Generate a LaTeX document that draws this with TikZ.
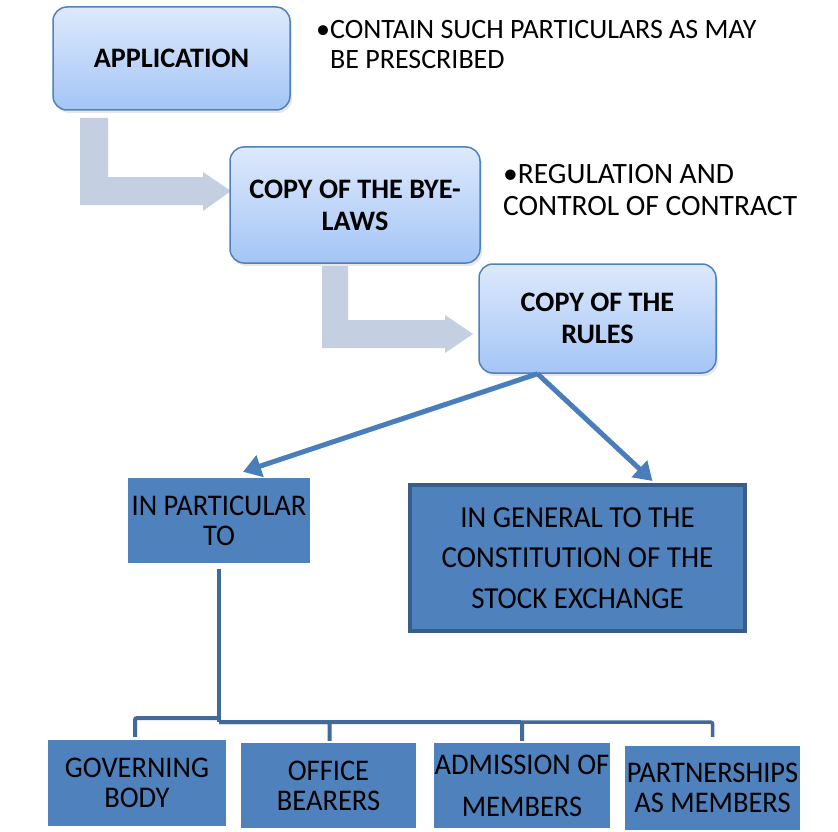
\documentclass[tikz,border=0pt]{standalone}
\usepackage{fontspec}
\setmainfont{Carlito}
\newfontfamily\narfont[FakeStretch=0.95]{Carlito}
\usetikzlibrary{arrows.meta,calc,shadows}
\definecolor{boxtop}{HTML}{DDE9FC}
\definecolor{boxbot}{HTML}{A4C5F6}
\definecolor{boxline}{HTML}{4F81BD}
\definecolor{bluefill}{HTML}{4F81BD}
\definecolor{genline}{HTML}{385D8A}
\definecolor{treeline}{HTML}{41699B}
\definecolor{arrline}{HTML}{4A7EBB}
\definecolor{bentcol}{HTML}{C5CFE2}
\tikzset{
  roundbox/.style={draw=boxline, line width=1.5pt, rounded corners=14pt, top color=boxtop, bottom color=boxbot,
    drop shadow={opacity=0.18, shadow xshift=2pt, shadow yshift=-3pt},
    align=center, inner sep=0pt, font=\bfseries\fontsize{28.2}{32}\selectfont},
  bluebox/.style={fill=bluefill, align=center, inner sep=0pt, font=\narfont\fontsize{30}{30}\selectfont},
  bullettext/.style={align=left, inner sep=0pt, anchor=north west},
  arr/.style={draw=arrline, line width=5pt, -{Triangle[length=18pt,width=22pt]}},
  tree/.style={draw=treeline, line width=4pt},
  bent/.style={fill=bentcol}
}
\begin{document}
\begin{tikzpicture}[x=1pt,y=-1pt]
\useasboundingbox (0,0) rectangle (838,832);
% bent arrows
\fill[bent] (80,118) -- (108,118) -- (108,177) -- (203,177) -- (203,172) -- (231,191) -- (203,211) -- (203,205) -- (80,205) -- cycle;
\fill[bent] (322,266) -- (348,266) -- (348,320) -- (445,320) -- (445,315) -- (473,334) -- (445,353) -- (445,348) -- (322,348) -- cycle;
% top boxes
\node[roundbox, minimum width=237pt, minimum height=103pt] (app) at (171.5,58.5) {APPLICATION};
\node[roundbox, minimum width=250pt, minimum height=116pt] (bye) at (355,205) {COPY OF THE BYE-\\LAWS};
\node[roundbox, minimum width=237pt, minimum height=109pt] (rules) at (597.5,318.5) {COPY OF THE\\RULES};
% bullet texts
\node[bullettext, font=\fontsize{28}{30}\selectfont] (b1) at (316,20) {•CONTAIN SUCH PARTICULARS AS MAY\\\hphantom{•}BE PRESCRIBED};
\node[bullettext, font=\fontsize{29.5}{32}\selectfont] (b2) at (503,164) {•REGULATION AND\\CONTROL OF CONTRACT};
% middle boxes
\node[bluebox, minimum width=182pt, minimum height=85pt] (inpart) at (219,520.5) {IN PARTICULAR\\TO};
\node[bluebox, draw=genline, line width=4pt, minimum width=335pt, minimum height=146pt, font=\narfont\fontsize{30.5}{40.5}\selectfont] (ingen) at (577.5,558) {IN GENERAL TO THE\\CONSTITUTION OF THE\\STOCK EXCHANGE};
% arrows from rules
\coordinate (rs) at ($(rules.south)+(-60,0)$);
\draw[arr] (rs) -- ($(inpart.north)+(24,-6)$);
\draw[arr] (rs) -- ($(ingen.north)+(75,-2)$);
% bottom boxes
\node[bluebox, minimum width=178pt, minimum height=86pt] (gb) at (137,783) {GOVERNING\\BODY};
\node[bluebox, minimum width=175pt, minimum height=85pt] (ob) at (328.5,785.5) {OFFICE\\BEARERS};
\node[bluebox, minimum width=176pt, minimum height=85pt, font=\narfont\fontsize{30}{42}\selectfont] (am) at (522,785.5) {ADMISSION OF\\MEMBERS};
\node[bluebox, minimum width=175pt, minimum height=84pt] (pm) at (712.5,788) {PARTNERSHIPS\\AS MEMBERS};
% tree
\coordinate (j1) at (219,718);
\coordinate (j2) at (219,722);
\draw[tree] ($(inpart.south)+(0,6)$) -- (j2);
\draw[tree, rounded corners=2pt] (j1) -| ($(gb.north)+(-2,-3)$);
\draw[tree, rounded corners=2pt] (j2) -| ($(ob.north)+(1,-2)$);
\draw[tree, rounded corners=2pt] (j2) -| ($(am.north)+(0,-2)$);
\draw[tree, line width=3.5pt, rounded corners=2pt] ($(j2)+(303,0)$) -| ($(pm.north)+(0,-9)$);
\end{tikzpicture}
\end{document}
